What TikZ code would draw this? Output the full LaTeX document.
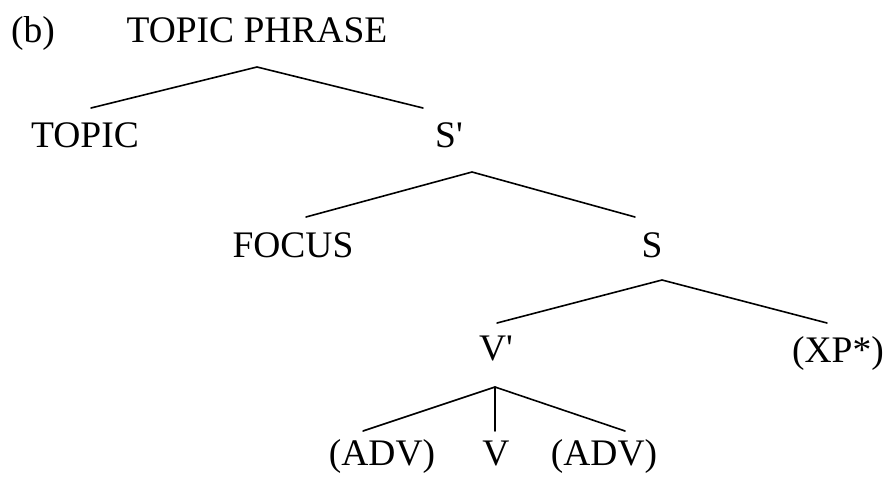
\documentclass[tikz,border=0pt]{standalone}
\usepackage{fontspec}
\setmainfont{Liberation Serif}[Ligatures=TeXOff]
\begin{document}
\begin{tikzpicture}[x=1pt,y=-1pt,
  lbl/.style={anchor=base,inner sep=0pt,font=\fontsize{37.5}{45}\selectfont},
  br/.style={line width=1.6pt,line cap=round,line join=round}]
\useasboundingbox (0,0) rectangle (890,481);
% labels
\node[lbl,anchor=base west] (b) at (11,43) {(b)};
\node[lbl] (tp) at (257,43) {TOPIC PHRASE};
\node[lbl] (topic) at (85,148) {TOPIC};
\node[lbl] (sbar) at (449,148) {S'};
\node[lbl] (focus) at (293,257) {FOCUS};
\node[lbl] (s) at (652,257) {S};
\node[lbl] (vbar) at (496,360) {V'};
\node[lbl] (xp) at (838,362) {(XP*)};
\node[lbl] (adv1) at (382,465) {(ADV)};
\node[lbl] (v) at (496,465) {V};
\node[lbl] (adv2) at (604,465) {(ADV)};
% branch points
\coordinate (tpA) at (257,67);
\coordinate (topicE) at (91,108);
\coordinate (sbarE) at (423,108);
\coordinate (sbarA) at (472,172);
\coordinate (focusE) at (306,217);
\coordinate (sE) at (635,217);
\coordinate (sA) at (662,280);
\coordinate (vbarE) at (497,323);
\coordinate (xpE) at (827,323);
\coordinate (vbarA) at (495,387);
\coordinate (adv1E) at (363,431);
\coordinate (vE) at (495,431);
\coordinate (adv2E) at (625,431);
% branches
\draw[br] (topicE) -- (tpA) -- (sbarE);
\draw[br] (focusE) -- (sbarA) -- (sE);
\draw[br] (vbarE) -- (sA) -- (xpE);
\draw[br] (adv1E) -- (vbarA) -- (adv2E);
\draw[br] (vbarA) -- (vE);
\end{tikzpicture}
\end{document}
